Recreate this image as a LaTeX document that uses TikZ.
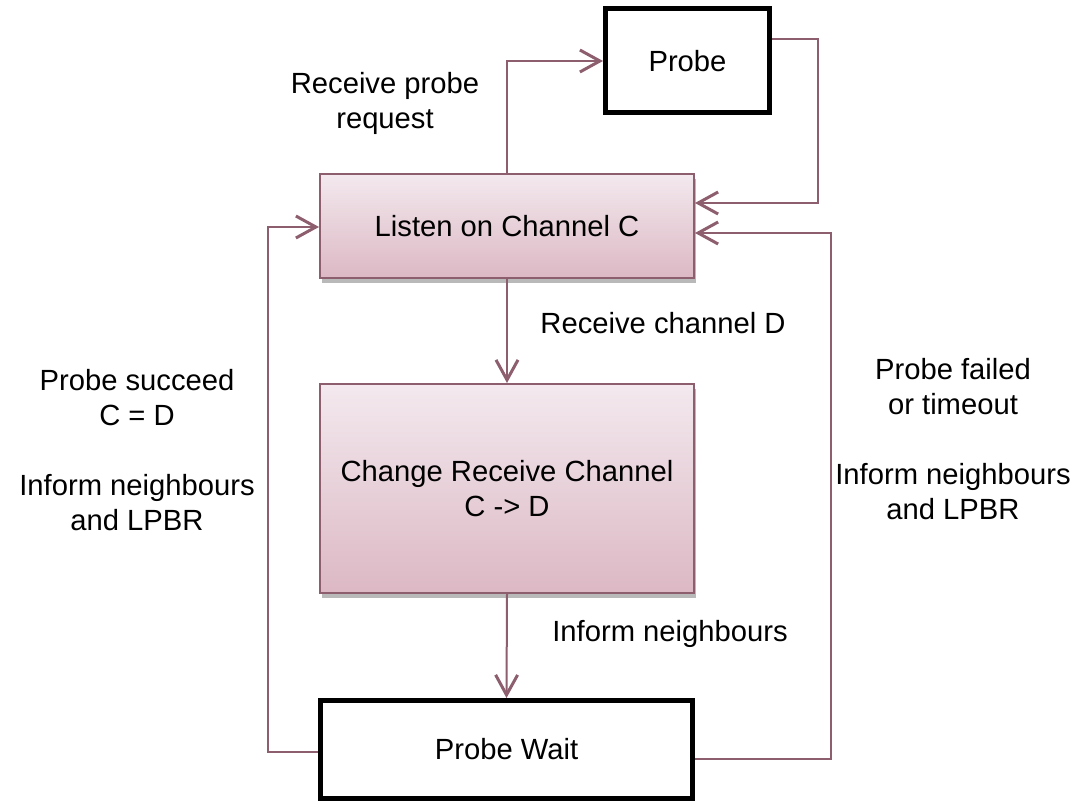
\documentclass[tikz,border=0pt]{standalone}
\usepackage{fontspec}
\setmainfont{Liberation Sans}
\usepackage{xcolor}
\usetikzlibrary{arrows.meta, positioning, calc, shadows}
\definecolor{mauve}{RGB}{140,94,110}
\definecolor{pinktop}{RGB}{243,233,238}
\definecolor{pinkbot}{RGB}{220,184,196}
\tikzset{
	state/.style={rectangle, draw=mauve, line width=1pt, top color=pinktop, bottom color=pinkbot,
		drop shadow={shadow xshift=1pt, shadow yshift=-2.5pt, opacity=0.55, fill=gray},
		align=center, inner sep=0pt},
	plain/.style={rectangle, draw=black, line width=2.5pt, fill=white, align=center, inner sep=0pt},
	lbl/.style={align=center, inner sep=0pt},
	line/.style={draw=mauve, line width=1pt,
		-{Straight Barb[length=10pt, width=11pt, line width=1.5pt]}}
}

\begin{document}
\begin{tikzpicture}[x=0.5pt, y=-0.5pt, font=\fontsize{14.6pt}{17.5pt}\selectfont]
		\useasboundingbox (0,0) rectangle (1077,802);
		
		% States
		\node[plain, minimum width=82pt, minimum height=52pt] (probe) at (687.5, 61) {Probe};
		\node[state, minimum width=187pt, minimum height=52pt] (listen) at (507, 226) {Listen on Channel C};
		\node[state, minimum width=187pt, minimum height=104.5pt] (change) at (507, 488.5) {Change Receive Channel\\C -> D};
		\node[plain, minimum width=186pt, minimum height=49pt] (pwait) at (506.5, 749.5) {Probe Wait};
		
		% Transition labels
		\node[lbl] (lreq) at (385, 103) {Receive probe\\request};
		\node[lbl] (lchan) at (663, 323) {Receive channel D};
		\node[lbl] (linform) at (670, 634) {Inform neighbours};
		\node[lbl] (lok) at (137, 450) {Probe succeed\\C = D\\[17.5pt]Inform neighbours\\and LPBR};
		\node[lbl] (lfail) at (953, 439) {Probe failed\\or timeout\\[17.5pt]Inform neighbours\\and LPBR};
		
		% Transitions
		\path[line] (listen.north) |- (probe.west);
		\path[line] ($(probe.east)+(0,-22)$) -- ++(46,0) |- ($(listen.east)+(0,-23)$);
		\path[line] (listen.south) -- (change.north);
		\path[line] (change.south) -- (pwait.north);
		\path[line] ($(pwait.east)+(0,9)$) -- ++(136,0) |- ($(listen.east)+(0,7)$);
		\path[line] ($(pwait.west)+(0,2)$) -- ++(-50,0) |- ($(listen.west)+(0,1)$);
		
	\end{tikzpicture}
\end{document}
